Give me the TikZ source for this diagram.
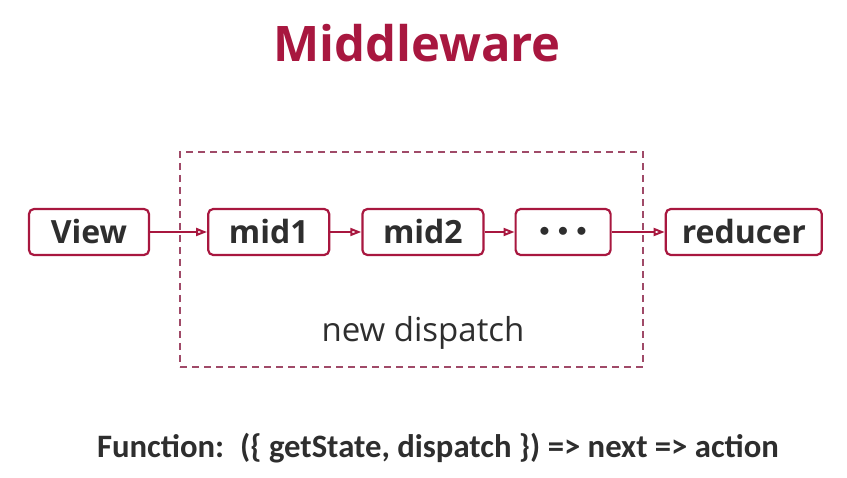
\documentclass[tikz,border=0pt]{standalone}
\usepackage{fontspec}
\setmainfont{Open Sans}
\newfontfamily\calibrifont{Carlito}
\usetikzlibrary{arrows.meta, positioning}
\definecolor{crimson}{HTML}{A8173F}
\definecolor{dashpink}{HTML}{A04A68}
\definecolor{textgray}{HTML}{2E2E2E}

\begin{document}
\begin{tikzpicture}[
    x=1pt, y=-1pt,
    stage/.style={rectangle, draw=crimson, line width=2.2pt, rounded corners=5pt, fill=white, minimum height=46pt, font=\fontsize{32}{34}\selectfont\bfseries, text=textgray, inner sep=0pt},
    arrow/.style={-{Triangle[open, length=11pt, width=8pt]}, draw=crimson, line width=2pt},
    node distance=57pt
]
\useasboundingbox (0,0) rectangle (847,478);

% Title
\node[text=crimson, font=\fontsize{49}{52}\selectfont\bfseries] (title) at (417,43) {Middleware};

% Dashed frame
\node[draw=dashpink, line width=1.3pt, dash pattern=on 7pt off 5pt, minimum width=463pt, minimum height=215pt, inner sep=0pt] (frame) at (411.5,259.5) {};
\node[text=textgray, font=\fontsize{33}{35}\selectfont] (newdisp) at (423,333) {new dispatch};

% Chain of stages
\node[stage, minimum width=120pt] (view) at (89,232) {View};
\node[stage, minimum width=121pt, right=57pt of view] (mid1) {mid1};
\node[stage, minimum width=121pt, right=31pt of mid1] (mid2) {mid2};
\node[stage, minimum width=95pt, right=30pt of mid2] (dots) {\fontsize{22}{24}\selectfont$\bullet\,\bullet\,\bullet$};
\node[stage, minimum width=156pt, right=53pt of dots] (reducer) {reducer};

% Arrows
\draw[arrow] (view) -- (mid1);
\draw[arrow] (mid1) -- (mid2);
\draw[arrow] (mid2) -- (dots);
\draw[arrow] (dots) -- (reducer);

% Signature
\node[text=textgray, font=\calibrifont\fontsize{32.7}{34}\selectfont\bfseries] (sig) at (438,448) {Function:\hspace{16pt}(\{ getState, dispatch \}) => next => action};

\end{tikzpicture}
\end{document}
